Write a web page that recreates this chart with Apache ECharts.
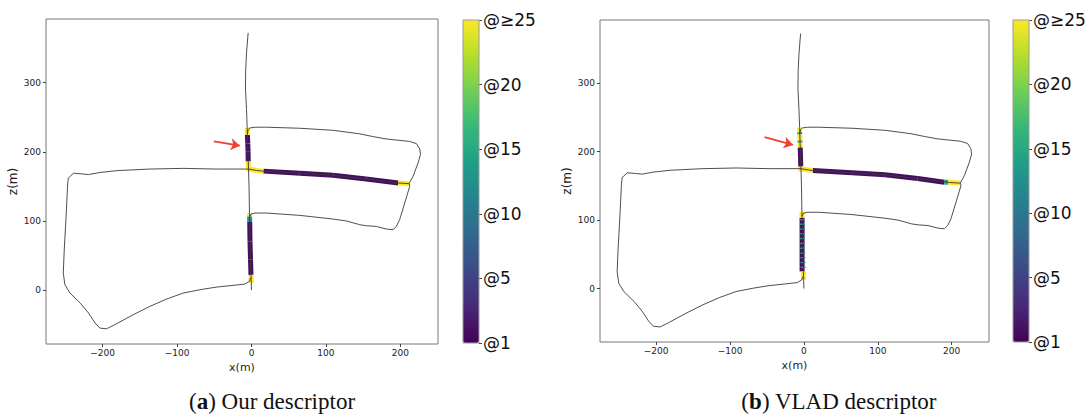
<!DOCTYPE html>
<html>
<head>
<meta charset="utf-8">
<script src="https://cdn.jsdelivr.net/npm/echarts@6/dist/echarts.min.js"></script>
<style>html,body{margin:0;padding:0;background:#fff;}#c{width:1089px;height:414px;}</style>
</head>
<body>
<div id="c"></div>
<script>
// ---- trajectory (x, z in metres) ----
const spine = [[-4.5,372],[-6.7,343],[-7.8,318],[-8.1,292],[-6.7,261],[-5.8,235],[-5.5,224],[-4.8,200],[-4.0,175],[-3.3,150],[-2.7,111],[-2.2,82],[-1.3,44],[-0.4,15],[0,0]];
const upperLoop = [[-5.6,226],[-4.5,232],[-2,234.5],[5,235.5],[20,235.5],[65,234],[110,231],[145,226],[163,222],[181,218.5],[212,215],[221.5,211.8],[226,204],[227,196],[223.7,183.8],[217,164.5],[211.6,153.9]];
const crossRoad = [[-4,175],[6.7,173],[16,172],[65,169],[109.6,166],[154,160.6],[197,154.8],[211.6,153.9]];
const leftLoop = [[-4,175],[-47,175],[-91.7,176],[-136.5,175],[-181,172.7],[-203.6,170],[-219,167],[-228,168],[-239,169],[-246,162],[-247,152],[-249,106.6],[-251.5,58],[-252.8,24.6],[-250.6,7.7],[-243.8,-4.3],[-230,-18.8],[-219,-33],[-210,-47.8],[-203.6,-55],[-194.6,-56],[-183.4,-50],[-159,-35.7],[-136.5,-23.6],[-114,-13],[-91.7,-4.3],[-69,0.5],[-47,4.3],[-24.6,6.8],[-9,8.7],[-3,12.5],[-1.3,17.4]];
const lowerLoop = [[-2.3,106],[-0.5,110],[4.5,111.4],[20,111.4],[65,108],[109.6,102.7],[127.5,99.9],[145.4,94.5],[154.4,93],[167.8,92],[181,88.3],[190,87.3],[194.6,92],[199,101.8],[205.8,125.9],[212.5,150],[212,153.9]];

// ---- matched stretches: [x1, z1, x2, z2, rank] ----
const matchesOurs = [
  [-5.5,224.5,-5.0,212,1],[-5.0,212,-4.6,200,1],[-4.6,200,-4.4,186,1],
  [-5.8,235,-5.5,224.5,25],[-4.4,186,-4.0,172,25],
  [16,172,65,169,1],[65,169,109.6,166,1],[109.6,166,154,160.6,1],[154,160.6,197,154.8,1],
  [-4.0,175,6.7,173,25],[6.7,173,16,172,25],[197,154.8,211.6,153.9,25],
  [-2.4,99.3,-2.0,70,1],[-2.0,70,-1.3,44,1],[-1.3,44,-0.7,22,1],
  [-2.6,111.4,-2.5,106.5,25],[-2.5,106.5,-2.4,99.3,13],[-0.7,22,-0.3,10.5,25]
];
const matchesVLAD = [
  [-5.0,206,-4.6,192,1],[-4.6,192,-4.3,178,1],
  [-5.8,235,-5.7,228,25],[-5.7,228,-5.6,225,13],[-5.6,225,-5.3,216,25],[-5.3,216,-5.2,213,13],[-5.2,213,-5.0,206,25],[-4.3,178,-4.0,171,25],
  [12,172.5,65,169,1],[65,169,109.6,166,1],[109.6,166,154,160.6,1],[154,160.6,190,155.3,1],
  [-4,175,6.7,173,25],[6.7,173,12,172.5,25],[190,155.3,195,155,14],[195,155,211.6,153.9,25],
  [-2.5,103,-2.5,25,1],
  [-2.5,101.5,-2.4,99.5,14],[-2.4,95,-2.3,93,14],[-2.3,88,-2.2,86,14],[-2.2,81,-2.1,79,14],
  [-2.0,74,-1.9,72,14],[-1.9,67,-1.8,65,14],[-1.8,60,-1.7,58,14],[-1.6,53,-1.5,51,14],
  [-1.4,46,-1.3,44,14],[-1.2,39,-1.1,37,14],[-1.0,32,-0.9,30,14],
  [-2.6,112,-2.5,103,25],[-0.9,25,-0.4,13,25]
];

// ---- annotations / axes ----
const arrowOurs = [[-50.6,215],[-15.7,208.8]];
const arrowVLAD = [[-53.3,220.9],[-14.9,209.7]];
const xTicks = [-200,-100,0,100,200];
const zTicks = [0,100,200,300];
const xRange = [-276,250.5];
const zRange = [-78,392];
const cbTicks = [0,5,10,15,20,25];
const cbLabels = ['@1','@5','@10','@15','@20','@\u226525'];
const captions = [['a','Our descriptor'],['b','VLAD descriptor']];

const viridis = ['#440154','#482878','#3e4989','#31688e','#26828e','#1f9e89','#35b779','#6ece58','#b5de2b','#fde725'];
const FONT = 'DejaVu Sans';
const fmt = v => (v < 0 ? '\u2212' + Math.abs(v) : String(v));

const layouts = [
  {grid:{left:46,top:19,width:392,height:325}, cb:{left:463,top:20,width:16,height:323}, cap:272},
  {grid:{left:600,top:20,width:389,height:322}, cb:{left:1013,top:20,width:16,height:322}, cap:839}
];
const matchSets = [matchesOurs, matchesVLAD];
const arrows = [arrowOurs, arrowVLAD];
const paths = [spine, upperLoop, crossRoad, leftLoop, lowerLoop];

const grid = [], xAxis = [], yAxis = [], series = [], visualMap = [], graphic = [];
layouts.forEach((L, p) => {
  grid.push(Object.assign({show:true, borderColor:'#777', borderWidth:1, backgroundColor:'#fff'}, L.grid));
  xAxis.push({type:'value', gridIndex:grid.length-1, min:xRange[0], max:xRange[1],
    splitLine:{show:false}, axisLine:{show:false, onZero:false},
    axisTick:{show:true, length:3, customValues:xTicks, lineStyle:{color:'#444'}},
    axisLabel:{customValues:xTicks, formatter:fmt, fontFamily:FONT, fontSize:9, color:'#222', margin:4},
    name:'x(m)', nameLocation:'middle', nameGap:13, nameTextStyle:{fontFamily:FONT, fontSize:11, color:'#222'}});
  yAxis.push({type:'value', gridIndex:grid.length-1, min:zRange[0], max:zRange[1],
    splitLine:{show:false}, axisLine:{show:false, onZero:false},
    axisTick:{show:true, length:3, customValues:zTicks, lineStyle:{color:'#444'}},
    axisLabel:{customValues:zTicks, formatter:fmt, fontFamily:FONT, fontSize:9, color:'#222', margin:5},
    name:'z(m)', nameLocation:'middle', nameGap:27, nameTextStyle:{fontFamily:FONT, fontSize:12, color:'#222'}});
  const ai = xAxis.length - 1;
  paths.forEach((path, k) => {
    const s = {type:'line', xAxisIndex:ai, yAxisIndex:ai, data:path, showSymbol:false, symbol:'none',
      lineStyle:{color:'#3a3a3a', width:0.9}, z:4, silent:true, animation:false};
    if (k === 0) {
      s.markLine = {silent:true, symbol:['none','arrow'], symbolSize:9, label:{show:false},
        lineStyle:{color:'#f0402f', width:1.8, type:'solid'},
        data:[[{coord:arrows[p][0]},{coord:arrows[p][1]}]]};
    }
    series.push(s);
  });
  series.push({type:'custom', xAxisIndex:ai, yAxisIndex:ai, data:matchSets[p],
    encode:{x:[0,2], y:[1,3]}, z:3, silent:true, animation:false,
    renderItem:(params, api) => {
      const a = api.coord([api.value(0), api.value(1)]);
      const b = api.coord([api.value(2), api.value(3)]);
      return {type:'line', shape:{x1:a[0],y1:a[1],x2:b[0],y2:b[1]},
        style:{stroke:api.visual('color'), lineWidth:5, lineCap:'butt'}};
    }});
  visualMap.push({type:'continuous', min:0, max:25, dimension:4, seriesIndex:series.length-1,
    orient:'vertical', left:L.cb.left, top:L.cb.top, itemWidth:L.cb.width, itemHeight:L.cb.height,
    padding:0, calculable:false, inRange:{color:viridis}, z:2});
  // colorbar axis
  grid.push(Object.assign({show:true, borderColor:'#999', borderWidth:1, backgroundColor:'transparent', z:5}, L.cb));
  xAxis.push({type:'value', gridIndex:grid.length-1, show:false, min:0, max:1});
  yAxis.push({type:'value', gridIndex:grid.length-1, position:'right', min:0, max:25, interval:5,
    splitLine:{show:false}, axisLine:{show:false, onZero:false},
    axisTick:{show:true, length:3, lineStyle:{color:'#444'}},
    axisLabel:{formatter:v => cbLabels[cbTicks.indexOf(v)], fontFamily:FONT, fontSize:17, color:'#111', margin:4}});
  graphic.push({type:'text', x:L.cap, y:401, style:{
    text:'{b|' + '(' + '}{bb|' + captions[p][0] + '}{b|) ' + captions[p][1] + '}',
    textAlign:'center', textVerticalAlign:'middle',
    rich:{b:{fontFamily:'Liberation Serif', fontSize:23, fill:'#111'},
          bb:{fontWeight:'bold', fontFamily:'Liberation Serif', fontSize:23, fill:'#111'}}}});
});

const chart = echarts.init(document.getElementById('c'), null, {renderer:'svg'});
chart.setOption({animation:false, backgroundColor:'#fff', grid, xAxis, yAxis, series, visualMap, graphic});
</script>
</body>
</html>
